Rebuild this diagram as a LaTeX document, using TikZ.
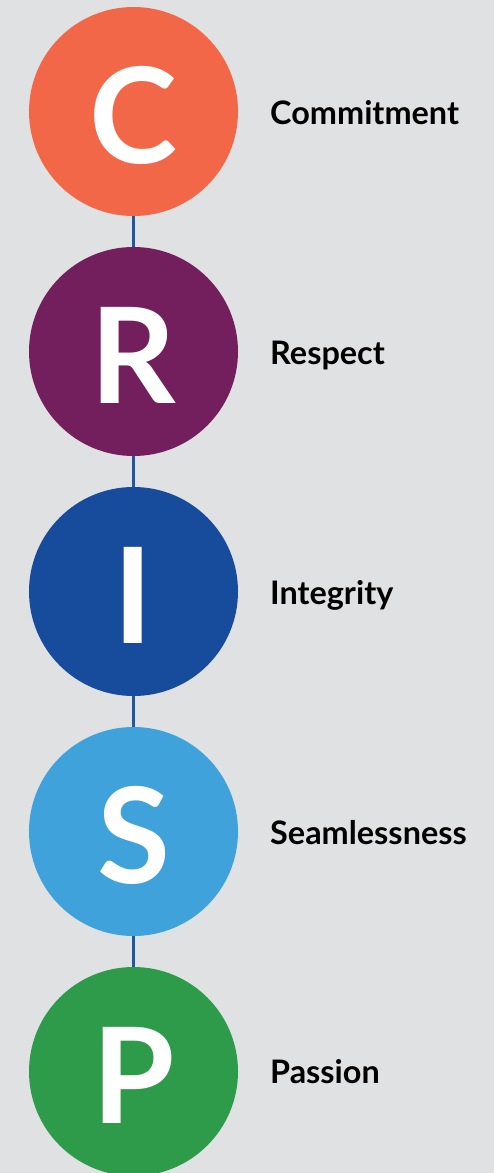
\documentclass[tikz,border=0pt]{standalone}
\usepackage{fontspec}
\setmainfont{Lato}
\definecolor{bg}{HTML}{E0E1E3}
\definecolor{cC}{HTML}{F36749}
\definecolor{cR}{HTML}{731E5D}
\definecolor{cI}{HTML}{174B9C}
\definecolor{cS}{HTML}{3FA2DA}
\definecolor{cP}{HTML}{2E9B4B}
\definecolor{linkc}{HTML}{1F56A5}
\begin{document}
\begin{tikzpicture}[x=1pt,y=-1pt,
  disc/.style={circle,minimum size=209pt,inner sep=0pt,draw=none},
  letter/.style={text=white,font=\fontsize{133}{133}\selectfont\bfseries,anchor=base,inner sep=0pt},
  label/.style={text=black,font=\fontsize{32.4}{32.4}\selectfont\bfseries,anchor=base west,inner sep=0pt},
  link/.style={draw=linkc,line width=2.4pt}]
\useasboundingbox (0,0) rectangle (494,1173);
\fill[bg] (0,0) rectangle (494,1173);
\begin{scope}
\clip (0,0) rectangle (494,1173);
\node[disc,fill=cC] (c) at (133.5,111.5) {};
\node[disc,fill=cR] (r) at (133.5,351.5) {};
\node[disc,fill=cI] (i) at (133.5,591.5) {};
\node[disc,fill=cS] (s) at (133.5,831.5) {};
\node[disc,fill=cP] (p) at (133.5,1071.5) {};
\end{scope}
\draw[link] (c) -- (r);
\draw[link] (r) -- (i);
\draw[link] (i) -- (s);
\draw[link] (s) -- (p);
\node[letter] (lc) at (133.5,163.5) {C};
\node[letter] (lr) at (133.5,403) {R};
\node[letter] (li) at (133.5,643) {I};
\node[letter] (ls) at (133.5,883.5) {S};
\node[letter] (lp) at (133.5,1123) {P};
\node[label] (tc) at (270,124.5) {Commitment};
\node[label] (tr) at (270,364) {Respect};
\node[label] (ti) at (270,604) {Integrity};
\node[label] (ts) at (270,844) {Seamlessness};
\node[label] (tp) at (270,1083.5) {Passion};
\end{tikzpicture}
\end{document}
